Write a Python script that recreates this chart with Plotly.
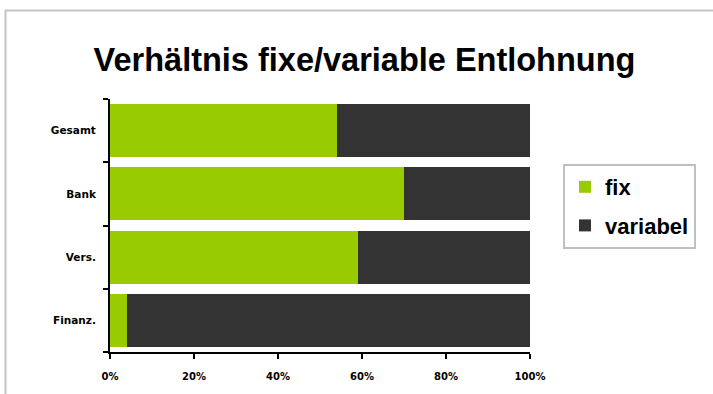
import plotly.graph_objects as go

categories = ["Finanz.", "Vers.", "Bank", "Gesamt"]
fix_values = [4, 59, 70, 54]
variabel_values = [96, 41, 30, 46]
x_ticks = [0, 20, 40, 60, 80, 100]
x_tick_labels = ["0%", "20%", "40%", "60%", "80%", "100%"]

W, H = 713, 394
L, R, T, B = 110, 183, 99, 42
pw, ph = W - L - R, H - T - B

def px_x(p):
    return (p - L) / pw

def px_y(p):
    return (H - B - p) / ph

fig = go.Figure()
fig.add_trace(go.Bar(y=categories, x=fix_values, orientation="h", name="fix",
                     marker=dict(color="#99cc00", line=dict(width=0)), legendgroup="a"))
fig.add_trace(go.Bar(y=categories, x=variabel_values, orientation="h", name="variabel",
                     marker=dict(color="#333333", line=dict(width=0)), legendgroup="b"))

fig.update_layout(
    width=W, height=H,
    margin=dict(l=L, r=R, t=T, b=B),
    barmode="stack", bargap=0.16,
    paper_bgcolor="white", plot_bgcolor="white",
    font=dict(family="Liberation Sans, Arial, sans-serif", color="black"),
    title=dict(text="Verhältnis fixe/variable Entlohnung", x=364.5 / W, xanchor="center",
               y=1 - 60 / H, yanchor="middle", yref="container",
               font=dict(size=32.5, weight="bold", color="black")),
    legend=dict(x=px_x(563), y=px_y(164), xanchor="left", yanchor="top",
                bordercolor="#c0c0c0", borderwidth=2, bgcolor="white",
                font=dict(size=22, weight="bold"), tracegroupgap=7,
                traceorder="grouped", itemwidth=30),
    xaxis=dict(range=[0, 100], tickvals=x_ticks, ticktext=x_tick_labels,
               showgrid=False, zeroline=False, showline=True, linecolor="black", linewidth=2,
               ticks="outside", ticklen=5, tickwidth=2, tickcolor="black",
               tickfont=dict(size=10, weight="bold", family="DejaVu Sans, sans-serif"),
               ticklabelstandoff=9, fixedrange=True),
    yaxis=dict(categoryorder="array", categoryarray=categories,
               showgrid=False, zeroline=False, showline=True, linecolor="black", linewidth=2,
               ticks="outside", ticklen=5, tickwidth=2, tickcolor="black", tickson="boundaries",
               tickfont=dict(size=10.5, weight="bold", family="DejaVu Sans, sans-serif"),
               ticklabelstandoff=10, fixedrange=True),
    shapes=[dict(type="rect", xref="paper", yref="paper",
                 x0=px_x(5.5), x1=px_x(760), y0=px_y(440), y1=px_y(10.5),
                 line=dict(color="#c4c4c4", width=2), layer="below")],
)

fig.write_html("out.html", config={"displayModeBar": False})
